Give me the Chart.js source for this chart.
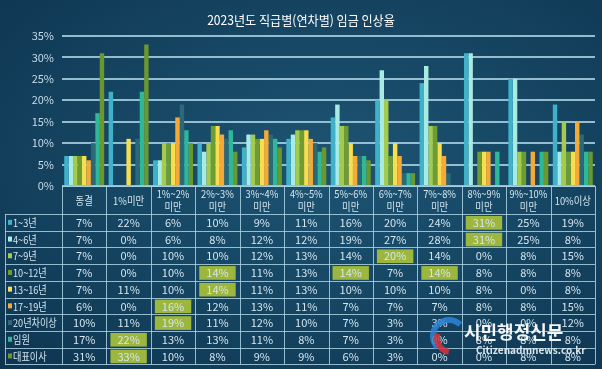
<!DOCTYPE html>
<html>
<head>
<meta charset="utf-8">
<script src="https://cdn.jsdelivr.net/npm/chart.js@4"></script>
<style>
  html, body { margin: 0; padding: 0; }
  body {
    width: 602px; height: 369px; overflow: hidden;
    background: radial-gradient(ellipse at 55% 45%, #1d5473 0%, #164764 45%, #0e3450 100%);
  }
  #wage { display: block; }
</style>
</head>
<body>
<canvas id="wage" width="602" height="369"></canvas>
<script>
// categories (table header lines)
var categories = [
  ["동결"], ["1%미만"], ["1%~2%", "미만"], ["2%~3%", "미만"], ["3%~4%", "미만"],
  ["4%~5%", "미만"], ["5%~6%", "미만"], ["6%~7%", "미만"], ["7%~8%", "미만"],
  ["8%~9%", "미만"], ["9%~10%", "미만"], ["10%이상"]
];
var seriesNames = ["1~3년", "4~6년", "7~9년", "10~12년", "13~16년", "17~19년", "20년차이상", "임원", "대표이사"];
var yr1to3   = [7, 22, 6, 10, 9, 11, 16, 20, 24, 31, 25, 19];
var yr4to6   = [7, 0, 6, 8, 12, 12, 19, 27, 28, 31, 25, 8];
var yr7to9   = [7, 0, 10, 10, 12, 13, 14, 20, 14, 0, 8, 15];
var yr10to12 = [7, 0, 10, 14, 11, 13, 14, 7, 14, 8, 8, 8];
var yr13to16 = [7, 11, 10, 14, 11, 13, 10, 10, 10, 8, 0, 8];
var yr17to19 = [6, 0, 16, 12, 13, 11, 7, 7, 7, 8, 8, 15];
var yr20plus = [10, 11, 19, 11, 12, 10, 7, 3, 3, 0, 0, 12];
var executive = [17, 22, 13, 13, 11, 8, 7, 3, 0, 8, 8, 8];
var ceo      = [31, 33, 10, 8, 9, 9, 6, 3, 0, 0, 8, 8];
var yTicks = [0, 5, 10, 15, 20, 25, 30, 35];

var allValues = [yr1to3, yr4to6, yr7to9, yr10to12, yr13to16, yr17to19, yr20plus, executive, ceo];
var colors = ["#3fb1c9", "#a9ebe3", "#a3cc4f", "#6f9b34", "#f6de4f", "#f4aa38", "#2b6878", "#2fb898", "#6a972e"];

var FONT = "'Liberation Sans Narrow', 'Noto Sans CJK KR', sans-serif";
var KFONT = "'Noto Sans CJK KR', sans-serif";
var LINE = "rgba(170, 210, 228, 0.85)";

// draw text squeezed horizontally
function narrowText(c, text, x, y, sx) {
  c.save();
  c.translate(x, y);
  c.scale(sx, 1);
  c.fillText(text, 0, 0);
  c.restore();
}

var tablePlugin = {
  id: "tablePlugin",
  afterDraw: function (chart) {
    var c = chart.ctx;
    var xs = chart.scales.x;
    var area = chart.chartArea;
    var colW = xs.getPixelForValue(1) - xs.getPixelForValue(0);
    var left = area.left, right = area.right;
    var top = area.bottom, headH = 28, rowH = 16.7;
    var rowLeft = 5;
    var bottom = top + headH + rowH * seriesNames.length;

    c.save();
    // title
    c.fillStyle = "#ffffff";
    c.font = "13px " + KFONT;
    c.textAlign = "center";
    c.textBaseline = "middle";
    narrowText(c, "2023년도 직급별(연차별) 임금 인상율", 301, 20, 0.93);

    // highlight cells (row maximum)
    for (var r = 0; r < allValues.length; r++) {
      var mx = Math.max.apply(null, allValues[r]);
      for (var i = 0; i < categories.length; i++) {
        if (allValues[r][i] === mx) {
          var cx = xs.getPixelForValue(i);
          c.fillStyle = "#9db63e";
          c.fillRect(cx - colW / 2 + 4, top + headH + r * rowH + 2, colW - 8, rowH - 3);
        }
      }
    }

    // grid lines
    c.strokeStyle = LINE;
    c.lineWidth = 1;
    c.beginPath();
    c.moveTo(left, top + 0.5); c.lineTo(right, top + 0.5);
    for (var r2 = 0; r2 <= seriesNames.length; r2++) {
      var yy = Math.round(top + headH + r2 * rowH) + 0.5;
      c.moveTo(rowLeft, yy); c.lineTo(right, yy);
    }
    for (var k = 0; k <= categories.length; k++) {
      var xx = Math.round(left + k * colW) + 0.5;
      c.moveTo(xx, top); c.lineTo(xx, bottom);
    }
    c.moveTo(rowLeft + 0.5, top + headH); c.lineTo(rowLeft + 0.5, bottom);
    c.stroke();

    // header text
    c.fillStyle = "#d4e6ef";
    c.font = "11px " + KFONT;
    categories.forEach(function (lines, i) {
      var cx = xs.getPixelForValue(i);
      if (lines.length === 1) {
        narrowText(c, lines[0], cx, top + headH / 2 + 1, 0.85);
      } else {
        narrowText(c, lines[0], cx, top + 8, 0.85);
        narrowText(c, lines[1], cx, top + 21, 0.85);
      }
    });

    // rows
    allValues.forEach(function (vals, r) {
      var cy = top + headH + r * rowH + rowH / 2 + 0.5;
      c.fillStyle = colors[r];
      c.fillRect(rowLeft + 3, cy - 3, 4, 5);
      c.fillStyle = "#d4e6ef";
      c.textAlign = "left";
      c.font = "11px " + KFONT;
      narrowText(c, seriesNames[r], rowLeft + 8, cy, 0.83);
      c.textAlign = "center";
      c.font = "11px " + FONT;
      vals.forEach(function (v, i) {
        c.fillText(v + "%", xs.getPixelForValue(i), cy);
      });
    });

    // watermark
    c.globalAlpha = 0.85;
    c.lineWidth = 6;
    c.strokeStyle = "#2a86d6";
    c.beginPath(); c.arc(449, 336, 16, Math.PI * 0.75, Math.PI * 1.75); c.stroke();
    c.strokeStyle = "#d8323c";
    c.beginPath(); c.arc(451, 338, 14, Math.PI * 0.55, Math.PI * 1.1); c.stroke();
    c.globalAlpha = 0.95;
    c.fillStyle = "#ffffff";
    c.font = "bold 18px " + KFONT;
    c.textAlign = "left";
    c.fillText("시민행정신문", 464, 332);
    c.font = "bold 10px " + FONT;
    c.fillStyle = "#e8eef2";
    c.fillText("Citizenadmnews.co.kr", 476, 350);
    c.restore();
  }
};

new Chart(document.getElementById("wage"), {
  type: "bar",
  data: {
    labels: categories,
    datasets: seriesNames.map(function (name, i) {
      return {
        label: name,
        data: allValues[i],
        backgroundColor: colors[i],
        borderWidth: 0
      };
    })
  },
  options: {
    responsive: false,
    animation: false,
    layout: { padding: { top: 36, left: 0, right: 7, bottom: 183 } },
    datasets: { bar: { categoryPercentage: 0.9, barPercentage: 1.0 } },
    plugins: { legend: { display: false }, tooltip: { enabled: false } },
    scales: {
      x: { display: false },
      y: {
        min: 0,
        max: 35,
        afterFit: function (scale) { scale.width = 62; },
        afterBuildTicks: function (scale) {
          scale.ticks = yTicks.map(function (v) { return { value: v }; });
        },
        border: { display: false },
        grid: { color: LINE, lineWidth: 2, drawTicks: false },
        ticks: {
          color: "#c9dde7",
          padding: 8,
          font: { family: FONT, size: 11 },
          callback: function (v) { return v + "%"; }
        }
      }
    }
  },
  plugins: [tablePlugin]
});
</script>
</body>
</html>
